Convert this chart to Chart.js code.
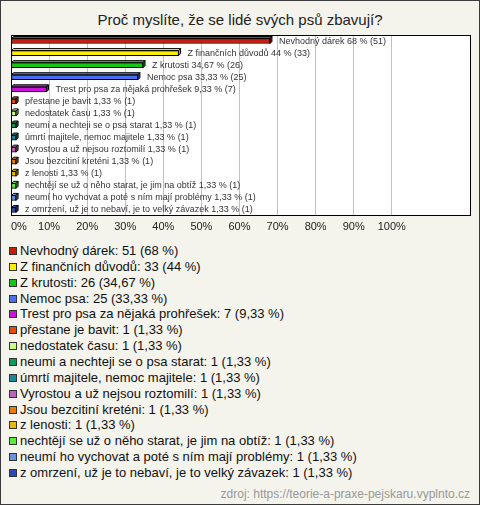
<!DOCTYPE html>
<html>
<head>
<meta charset="utf-8">
<script src="https://cdn.jsdelivr.net/npm/chart.js@4"></script>
<style>
  html, body { margin: 0; padding: 0; }
  #frame {
    position: relative; width: 480px; height: 505px; box-sizing: border-box;
    border: 1px solid #3a3a3a; background: #f4f3ec; overflow: hidden;
    font-family: "Liberation Sans", Arial, sans-serif;
  }
  #title { position: absolute; left: 0; width: 478px; top: 10px; text-align: center; font-size: 15px; color: #222; }
  #chartBox { position: absolute; left: -1px; top: -1px; width: 480px; height: 240px; }
  .item { position: absolute; left: 19px; font-size: 13px; line-height: 16px; color: #111; white-space: nowrap; }
  .item i { position: absolute; left: -11px; top: 4px; width: 6px; height: 6px; border: 1px solid #333; }
  #source { position: absolute; right: 9px; top: 486px; font-size: 12px; color: #999; }
</style>
</head>
<body>
<div id="frame">
  <div id="title">Proč myslíte, že se lidé svých psů zbavují?</div>
  <div id="chartBox"><canvas id="answers" width="480" height="240"></canvas></div>
  <div id="legend"></div>
  <div id="source">zdroj: https://teorie-a-praxe-pejskaru.vyplnto.cz</div>
</div>
<script>
const categories = [
  "Nevhodný dárek", "Z finančních důvodů", "Z krutosti", "Nemoc psa",
  "Trest pro psa za nějaká prohřešek", "přestane je bavit", "nedostatek času",
  "neumi a nechteji se o psa starat", "úmrtí majitele, nemoc majitele",
  "Vyrostou a už nejsou roztomilí", "Jsou bezcitiní kreténi", "z lenosti",
  "nechtějí se už o něho starat, je jim na obtíž",
  "neumí ho vychovat a poté s ním mají problémy",
  "z omrzení, už je to nebaví, je to velký závazek"
];
const counts = [51, 33, 26, 25, 7, 1, 1, 1, 1, 1, 1, 1, 1, 1, 1];
const percents = [68, 44, 34.67, 33.33, 9.33, 1.33, 1.33, 1.33, 1.33, 1.33, 1.33, 1.33, 1.33, 1.33, 1.33];
const colors = [
  "#c81e0a", "#ffee00", "#14c814", "#4a6ef0", "#c814dc", "#e84a0a", "#ccff88",
  "#0a9a5a", "#1a8a9a", "#c060c0", "#e87a0a", "#e8b80a", "#5aee3a", "#6a90e0", "#2a4ab8"
];
const tickLabels = [0, 10, 20, 30, 40, 50, 60, 70, 80, 90, 100];

const fmt = v => String(v).replace(".", ",");

// legenda pod grafem
const legend = document.getElementById("legend");
categories.forEach((c, i) => {
  const d = document.createElement("div");
  d.className = "item";
  d.style.top = (242 + i * 15.85) + "px";
  d.innerHTML = `<i style="background:${colors[i]}"></i>`;
  d.appendChild(document.createTextNode(`${c}: ${counts[i]} (${fmt(percents[i])} %)`));
  legend.appendChild(d);
});

function shade(hex, f) {
  const n = parseInt(hex.slice(1), 16);
  const ch = s => Math.max(0, Math.min(255, Math.round(((n >> s) & 255) * f)));
  return `rgb(${ch(16)},${ch(8)},${ch(0)})`;
}

const depth = 2;
const extras = {
  id: "extras",
  beforeDraw(chart) {
    const { ctx, chartArea: a } = chart;
    ctx.save();
    ctx.fillStyle = "#fff";
    ctx.fillRect(a.left, a.top, a.right - a.left, a.bottom - a.top);
    ctx.restore();
  },
  afterDatasetsDraw(chart) {
    const { ctx, chartArea: a, scales } = chart;
    const meta = chart.getDatasetMeta(0);
    ctx.save();
    ctx.lineWidth = 1;
    ctx.strokeStyle = "#000";
    meta.data.forEach((bar, i) => {
      const x0 = bar.base, x1 = bar.x, yT = bar.y - bar.height / 2, yB = bar.y + bar.height / 2;
      // horni plocha
      ctx.beginPath();
      ctx.moveTo(x0, yT); ctx.lineTo(x0 + depth, yT - depth);
      ctx.lineTo(x1 + depth, yT - depth); ctx.lineTo(x1, yT); ctx.closePath();
      ctx.fillStyle = shade(colors[i], 1.15); ctx.fill(); ctx.stroke();
      // prava plocha
      ctx.beginPath();
      ctx.moveTo(x1, yT); ctx.lineTo(x1 + depth, yT - depth);
      ctx.lineTo(x1 + depth, yB - depth); ctx.lineTo(x1, yB); ctx.closePath();
      ctx.fillStyle = shade(colors[i], 0.7); ctx.fill(); ctx.stroke();
      // popisek
      ctx.fillStyle = "#333";
      ctx.font = '9px "Liberation Sans", Arial, sans-serif';
      ctx.textBaseline = "middle";
      ctx.textAlign = "left";
      ctx.fillText(`${categories[i]} ${fmt(percents[i])} % (${counts[i]})`, x1 + 9, bar.y);
    });
    // osa x
    ctx.fillStyle = "#222";
    ctx.font = '11px "Liberation Sans", Arial, sans-serif';
    tickLabels.forEach(v => {
      const x = scales.x.getPixelForValue(v);
      ctx.textAlign = v === 0 ? "left" : "center";
      ctx.fillText(v + "%", v === 0 ? x : x, 227);
    });
    ctx.strokeStyle = "#000";
    ctx.strokeRect(a.left + 0.5, a.top + 0.5, a.right - a.left - 1, a.bottom - a.top - 1);
    ctx.restore();
  }
};

new Chart(document.getElementById("answers"), {
  type: "bar",
  data: {
    labels: categories,
    datasets: [{
      data: percents,
      backgroundColor: colors,
      borderColor: "#000",
      borderWidth: 1,
      borderSkipped: false,
      barThickness: 5
    }]
  },
  options: {
    indexAxis: "y",
    responsive: false,
    animation: false,
    layout: { padding: { left: 11, right: 9, top: 35, bottom: 24 } },
    plugins: { legend: { display: false }, tooltip: { enabled: false } },
    scales: {
      x: {
        min: 0, max: 120.8,
        ticks: { display: false, stepSize: 10 },
        border: { display: false },
        grid: {
          drawTicks: false,
          color: c => (c.tick && c.tick.value > 0 && c.tick.value <= 100) ? "#c0c0c0" : "transparent"
        },
        afterFit: s => { s.height = 0; }
      },
      y: {
        display: false,
        afterFit: s => { s.width = 0; }
      }
    }
  },
  plugins: [extras]
});
</script>
</body>
</html>
